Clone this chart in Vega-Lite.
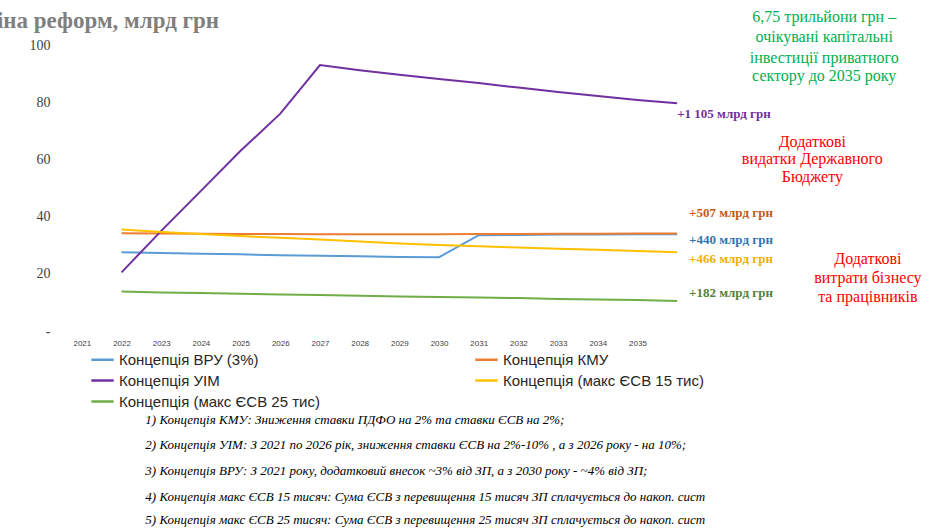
{
  "$schema": "https://vega.github.io/schema/vega-lite/v6.json",
  "width": 635,
  "height": 286,
  "autosize": "none",
  "padding": {"left": 62, "top": 45, "right": 243, "bottom": 197},
  "background": "white",
  "title": {"text": "Ціна реформ, млрд грн", "anchor": "start", "dx": -50, "dy": 30, "offset": 6, "font": "Liberation Serif", "fontSize": 23, "fontWeight": "bold", "color": "#7f7f7f"},
  "config": {"view": {"stroke": null}},
  "datasets": {
    "series": [
      {"year": 2022, "s": "Концепція ВРУ (3%)", "v": 27.5}, {"year": 2023, "s": "Концепція ВРУ (3%)", "v": 27.3}, {"year": 2024, "s": "Концепція ВРУ (3%)", "v": 27.0}, {"year": 2025, "s": "Концепція ВРУ (3%)", "v": 26.8}, {"year": 2026, "s": "Концепція ВРУ (3%)", "v": 26.5}, {"year": 2027, "s": "Концепція ВРУ (3%)", "v": 26.3}, {"year": 2028, "s": "Концепція ВРУ (3%)", "v": 26.1}, {"year": 2029, "s": "Концепція ВРУ (3%)", "v": 25.9}, {"year": 2030, "s": "Концепція ВРУ (3%)", "v": 25.8}, {"year": 2031, "s": "Концепція ВРУ (3%)", "v": 33.5}, {"year": 2032, "s": "Концепція ВРУ (3%)", "v": 33.6}, {"year": 2033, "s": "Концепція ВРУ (3%)", "v": 33.7}, {"year": 2034, "s": "Концепція ВРУ (3%)", "v": 33.7}, {"year": 2035, "s": "Концепція ВРУ (3%)", "v": 33.8}, {"year": 2036, "s": "Концепція ВРУ (3%)", "v": 33.8},
      {"year": 2022, "s": "Концепція КМУ", "v": 34.2}, {"year": 2023, "s": "Концепція КМУ", "v": 34.1}, {"year": 2024, "s": "Концепція КМУ", "v": 34.0}, {"year": 2025, "s": "Концепція КМУ", "v": 33.9}, {"year": 2026, "s": "Концепція КМУ", "v": 33.9}, {"year": 2027, "s": "Концепція КМУ", "v": 33.8}, {"year": 2028, "s": "Концепція КМУ", "v": 33.8}, {"year": 2029, "s": "Концепція КМУ", "v": 33.8}, {"year": 2030, "s": "Концепція КМУ", "v": 33.8}, {"year": 2031, "s": "Концепція КМУ", "v": 33.9}, {"year": 2032, "s": "Концепція КМУ", "v": 33.9}, {"year": 2033, "s": "Концепція КМУ", "v": 34.0}, {"year": 2034, "s": "Концепція КМУ", "v": 34.0}, {"year": 2035, "s": "Концепція КМУ", "v": 34.1}, {"year": 2036, "s": "Концепція КМУ", "v": 34.1},
      {"year": 2022, "s": "Концепція УІМ", "v": 20.5}, {"year": 2023, "s": "Концепція УІМ", "v": 35}, {"year": 2024, "s": "Концепція УІМ", "v": 49}, {"year": 2025, "s": "Концепція УІМ", "v": 63}, {"year": 2026, "s": "Концепція УІМ", "v": 76}, {"year": 2027, "s": "Концепція УІМ", "v": 93}, {"year": 2028, "s": "Концепція УІМ", "v": 91.2}, {"year": 2029, "s": "Концепція УІМ", "v": 89.6}, {"year": 2030, "s": "Концепція УІМ", "v": 88.1}, {"year": 2031, "s": "Концепція УІМ", "v": 86.7}, {"year": 2032, "s": "Концепція УІМ", "v": 85.1}, {"year": 2033, "s": "Концепція УІМ", "v": 83.6}, {"year": 2034, "s": "Концепція УІМ", "v": 82.2}, {"year": 2035, "s": "Концепція УІМ", "v": 80.8}, {"year": 2036, "s": "Концепція УІМ", "v": 79.6},
      {"year": 2022, "s": "Концепція (макс ЄСВ 15 тис)", "v": 35.5}, {"year": 2023, "s": "Концепція (макс ЄСВ 15 тис)", "v": 34.6}, {"year": 2024, "s": "Концепція (макс ЄСВ 15 тис)", "v": 33.9}, {"year": 2025, "s": "Концепція (макс ЄСВ 15 тис)", "v": 33.2}, {"year": 2026, "s": "Концепція (макс ЄСВ 15 тис)", "v": 32.6}, {"year": 2027, "s": "Концепція (макс ЄСВ 15 тис)", "v": 32.0}, {"year": 2028, "s": "Концепція (макс ЄСВ 15 тис)", "v": 31.3}, {"year": 2029, "s": "Концепція (макс ЄСВ 15 тис)", "v": 30.6}, {"year": 2030, "s": "Концепція (макс ЄСВ 15 тис)", "v": 30.1}, {"year": 2031, "s": "Концепція (макс ЄСВ 15 тис)", "v": 29.6}, {"year": 2032, "s": "Концепція (макс ЄСВ 15 тис)", "v": 29.2}, {"year": 2033, "s": "Концепція (макс ЄСВ 15 тис)", "v": 28.8}, {"year": 2034, "s": "Концепція (макс ЄСВ 15 тис)", "v": 28.4}, {"year": 2035, "s": "Концепція (макс ЄСВ 15 тис)", "v": 28.0}, {"year": 2036, "s": "Концепція (макс ЄСВ 15 тис)", "v": 27.5},
      {"year": 2022, "s": "Концепція (макс ЄСВ 25 тис)", "v": 13.8}, {"year": 2023, "s": "Концепція (макс ЄСВ 25 тис)", "v": 13.5}, {"year": 2024, "s": "Концепція (макс ЄСВ 25 тис)", "v": 13.3}, {"year": 2025, "s": "Концепція (макс ЄСВ 25 тис)", "v": 13.0}, {"year": 2026, "s": "Концепція (макс ЄСВ 25 тис)", "v": 12.8}, {"year": 2027, "s": "Концепція (макс ЄСВ 25 тис)", "v": 12.6}, {"year": 2028, "s": "Концепція (макс ЄСВ 25 тис)", "v": 12.3}, {"year": 2029, "s": "Концепція (макс ЄСВ 25 тис)", "v": 12.1}, {"year": 2030, "s": "Концепція (макс ЄСВ 25 тис)", "v": 11.9}, {"year": 2031, "s": "Концепція (макс ЄСВ 25 тис)", "v": 11.7}, {"year": 2032, "s": "Концепція (макс ЄСВ 25 тис)", "v": 11.5}, {"year": 2033, "s": "Концепція (макс ЄСВ 25 тис)", "v": 11.2}, {"year": 2034, "s": "Концепція (макс ЄСВ 25 тис)", "v": 11.0}, {"year": 2035, "s": "Концепція (макс ЄСВ 25 тис)", "v": 10.8}, {"year": 2036, "s": "Концепція (макс ЄСВ 25 тис)", "v": 10.5}
    ],
    "labels": [
      {"x": 2036.0, "y": 76, "t": "+1 105 млрд грн", "c": "#7030a0"},
      {"x": 2036.3, "y": 41.3, "t": "+507 млрд грн", "c": "#c55a11"},
      {"x": 2036.3, "y": 31.8, "t": "+440 млрд грн", "c": "#2f75b5"},
      {"x": 2036.3, "y": 25.2, "t": "+466 млрд грн", "c": "#f0b000"},
      {"x": 2036.3, "y": 13.3, "t": "+182 млрд грн", "c": "#548235"}
    ],
    "notes": [
      {"x": 2022.7, "y": 66, "t": "Додаткові", "c": "#ff0000"},
      {"x": 2022.7, "y": 60, "t": "видатки Державного", "c": "#ff0000"},
      {"x": 2022.7, "y": 54, "t": "Бюджету", "c": "#ff0000"},
      {"x": 2024.1, "y": 25.2, "t": "Додаткові", "c": "#ff0000"},
      {"x": 2024.1, "y": 18.5, "t": "витрати бізнесу", "c": "#ff0000"},
      {"x": 2024.1, "y": 11.9, "t": "та працівників", "c": "#ff0000"},
      {"x": 2023.0, "y": 109.8, "t": "6,75 трильйони грн –", "c": "#00b050"},
      {"x": 2023.0, "y": 102.8, "t": "очікувані капітальні", "c": "#00b050"},
      {"x": 2023.0, "y": 95.5, "t": "інвестиції приватного", "c": "#00b050"},
      {"x": 2023.0, "y": 89, "t": "сектору до 2035 року", "c": "#00b050"}
    ],
    "foot": [
      {"x": 2022.6, "y": -31, "t": "1)     Концепція КМУ: Зниження ставки ПДФО на 2% та ставки ЄСВ на 2%;"},
      {"x": 2022.6, "y": -40, "t": "2)     Концепція УІМ: З 2021 по 2026 рік, зниження ставки ЄСВ на 2%-10% , а з 2026 року - на 10%;"},
      {"x": 2022.6, "y": -49, "t": "3)     Концепція ВРУ: З 2021 року, додатковий внесок ~3% від ЗП, а з 2030 року - ~4% від ЗП;"},
      {"x": 2022.6, "y": -58, "t": "4)     Концепція макс ЄСВ 15 тисяч: Сума ЄСВ з перевищення 15 тисяч ЗП сплачується до накоп. сист"},
      {"x": 2022.6, "y": -66, "t": "5)     Концепція макс ЄСВ 25 тисяч: Сума ЄСВ з перевищення 25 тисяч ЗП сплачується до накоп. сист"}
    ]
  },
  "layer": [
    {
      "data": {"name": "series"},
      "mark": {"type": "line", "strokeWidth": 2, "clip": false},
      "encoding": {
        "x": {"field": "year", "type": "quantitative", "scale": {"domain": [2020.5, 2036.5], "nice": false, "zero": false},
          "axis": {"values": [2021,2022,2023,2024,2025,2026,2027,2028,2029,2030,2031,2032,2033,2034,2035], "format": "d", "title": null, "grid": false, "domain": false, "ticks": false, "labelFontSize": 8, "labelColor": "#404040", "labelPadding": 8}},
        "y": {"field": "v", "type": "quantitative", "scale": {"domain": [0, 100], "nice": false},
          "axis": {"values": [0,10,20,30,40,50,60,70,80,90,100], "labelOverlap": false, "labelExpr": "datum.value == 0 ? '-' : datum.label", "title": null, "grid": false, "domain": false, "ticks": false, "labelFontSize": 14, "labelColor": "#404040", "labelFont": "Liberation Serif", "labelPadding": 12}},
        "color": {"field": "s", "type": "nominal",
          "scale": {"domain": ["Концепція ВРУ (3%)", "Концепція УІМ", "Концепція (макс ЄСВ 25 тис)", "Концепція КМУ", "Концепція (макс ЄСВ 15 тис)"], "range": ["#5b9bd5", "#7030a0", "#70ad47", "#ed7d31", "#ffc000"]},
          "legend": {"orient": "none", "legendX": 28, "legendY": 302, "columns": 2, "title": null, "symbolType": "stroke", "symbolStrokeWidth": 2.5, "symbolSize": 500, "labelFontSize": 15, "labelFont": "Liberation Sans", "labelColor": "#262626", "rowPadding": 0, "columnPadding": 150, "labelLimit": 300}}
      }
    },
    {
      "data": {"name": "labels"},
      "mark": {"type": "text", "align": "left", "font": "Liberation Serif", "fontWeight": "bold", "fontSize": 13},
      "encoding": {"x": {"field": "x", "type": "quantitative"}, "y": {"field": "y", "type": "quantitative"}, "text": {"field": "t"}, "color": {"field": "c", "type": "nominal", "scale": null}}
    },
    {
      "data": {"name": "notes"},
      "mark": {"type": "text", "align": "center", "font": "Liberation Serif", "fontSize": 16, "dx": 663},
      "encoding": {"x": {"field": "x", "type": "quantitative"}, "y": {"field": "y", "type": "quantitative"}, "text": {"field": "t"}, "color": {"field": "c", "type": "nominal", "scale": null}}
    },
    {
      "data": {"name": "foot"},
      "mark": {"type": "text", "align": "left", "font": "Liberation Serif", "fontSize": 13, "fontStyle": "italic", "color": "#000000"},
      "encoding": {"x": {"field": "x", "type": "quantitative"}, "y": {"field": "y", "type": "quantitative"}, "text": {"field": "t"}}
    }
  ]
}
